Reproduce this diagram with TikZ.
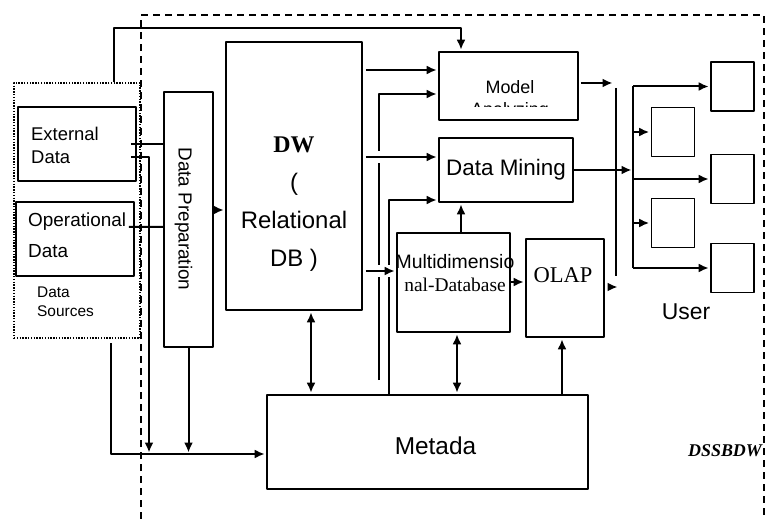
\documentclass[tikz,border=0pt]{standalone}
\usepackage{fontspec}
\setmainfont{Liberation Sans}
\newfontfamily\serifrm{Liberation Serif}
\usetikzlibrary{arrows.meta}

\begin{document}
\begin{tikzpicture}[line join=bevel,x=1bp,y=-1bp,
  tip/.tip={Latex[length=10bp,width=9bp]},
  box/.style={draw,line width=1.6bp,inner sep=0pt},
  userbox/.style={box,minimum width=43bp,minimum height=49bp},
  conn/.style={line width=2bp},
  arr/.style={conn,-tip,shorten >=1.5bp},
  dblarr/.style={conn,tip-tip,shorten >=1.5bp,shorten <=1.5bp},
  linehop/.style={preaction={draw=white,line width=12bp,-,shorten <=10bp,shorten >=#1}},
  linehop/.default=12bp]
\useasboundingbox (0,0) rectangle (778,519);
%%
\draw[line width=1.4bp,dash pattern=on 7bp off 5bp] (141,519) -- (141,15) -- (764,15) -- (764,519);
\node (src) at (77,210.5) [draw,line width=1.4bp,dash pattern=on 1.4bp off 1.4bp,inner sep=0pt,minimum width=126bp,minimum height=255bp] {};
\node (ext) at (77,144) [box,minimum width=118bp,minimum height=74bp] {};
\node (opr) at (75,239) [box,minimum width=118bp,minimum height=74bp] {};
\node (prep) at (188.5,219.5) [box,minimum width=49bp,minimum height=255bp] {};
\node (dw) at (294,176) [box,minimum width=136bp,minimum height=268bp] {};
\node (model) at (508.5,86) [box,minimum width=139bp,minimum height=68bp] {};
\node (mining) at (506,170) [box,minimum width=134bp,minimum height=64bp,font=\fontsize{22.5}{26}\selectfont] {Data Mining};
\node (multi) at (453.5,282.5) [box,minimum width=113bp,minimum height=99bp] {};
\node (olap) at (565,288) [box,minimum width=78bp,minimum height=98bp] {};
\node (metada) at (427.5,442) [box,minimum width=321bp,minimum height=94bp] {};
\node (u1) at (732.5,86.5) [userbox] {};
\node (u2) at (673,132) [userbox] {};
\node (u3) at (732.5,179) [userbox] {};
\node (u4) at (673,223) [userbox] {};
\node (u5) at (732.5,268) [userbox] {};
%
\node (extlbl) at (31,126.5) [anchor=north west,inner sep=0pt,align=left,font=\fontsize{18.5}{24}\selectfont] {External\\Data};
\node (oprlbl) at (28,213) [anchor=north west,inner sep=0pt,align=left,font=\fontsize{19}{31}\selectfont] {Operational\\Data};
\begin{scope}
  \clip (14,270) rectangle (140,316);
  \node (srclbl) at (37,286.5) [anchor=north west,inner sep=0pt,align=left,font=\fontsize{15.5}{19}\selectfont] {Data\\Sources};
\end{scope}
\node (preplbl) at (183.5,219) [rotate=-90,inner sep=0pt,font=\fontsize{19}{22}\selectfont] {Data Preparation};
\node (dwlbl) at (294,137) [anchor=north,inner sep=0pt,align=center,font=\fontsize{24}{38}\selectfont] {{\serifrm\bfseries DW}\\(\\Relational\\DB )};
\begin{scope}
  \clip (440,53) rectangle (577,107);
  \node (modellbl) at (510,80) [anchor=north,inner sep=0pt,align=center,font=\fontsize{18}{22}\selectfont] {Model\\Analyzing};
\end{scope}
\node (multilbl) at (455,254) [anchor=north,inner sep=0pt,align=center,font=\fontsize{19.5}{23}\selectfont] {Multidimensio\\{\serifrm nal-Database}};
\node (olaplbl) at (563,275.5) [inner sep=0pt,font=\serifrm\fontsize{22.6}{26}\selectfont] {OLAP};
\node (metadalbl) at (435.5,445.5) [inner sep=0pt,font=\fontsize{24.5}{28}\selectfont] {Metada};
\node (userlbl) at (686,311.5) [inner sep=0pt,font=\fontsize{23}{27}\selectfont] {User};
\node (dssbdw) at (725,451) [inner sep=0pt,font=\serifrm\bfseries\itshape\fontsize{18}{21}\selectfont] {DSSBDW};
%
\coordinate (feed) at (149,454);
\coordinate (srcout) at (111,343);
\coordinate (cut) at (379,380);
\coordinate (busA) at (616,88);
\coordinate (busB) at (616,276);
\coordinate (mdlend) at (614,83);
\coordinate (olapend) at (619,287);
\coordinate (fan) at (633,0);
%
\draw[conn] ([xshift=-6bp]ext.east) -- (prep.west |- ext.east);
\draw[arr] ([xshift=-6bp,yshift=-13bp]ext.east) -| (feed);
\draw[conn] ([xshift=-6bp,yshift=12bp]opr.east) -- (prep.west |- 0,227);
\draw[arr] (srcout) |- (metada.west |- feed);
\draw[arr] (prep.south) -- (prep.south |- feed);
\draw[arr] (prep.east |- 0,210) -- (dw.west |- 0,210);
\draw[dblarr] (dw.south -| 311,0) -- (metada.north -| 311,0);
\draw[arr] (src.north -| 114,0) |- (461,28) -- (model.north -| 461,0);
%
\draw[arr] (cut) |- (model.west |- 0,94);
\draw[arr] (metada.north -| 389,0) |- (mining.west |- 0,200);
\draw[arr] ([xshift=3bp]dw.east |- 0,70) -- (model.west |- 0,70);
\draw[arr,linehop] ([xshift=3bp]dw.east |- 0,157) -- (mining.west |- 0,157);
\draw[arr,linehop=4bp] ([xshift=3bp]dw.east |- 0,271) -- (multi.west |- 0,271);
\draw[arr] (multi.north -| 461,0) -- (mining.south -| 461,0);
\draw[arr] (multi.east |- 0,282) -- (olap.west |- 0,282);
\draw[dblarr] (multi.south -| 457,0) -- (metada.north -| 457,0);
\draw[arr] (metada.north -| 562,0) -- (olap.south -| 562,0);
%
\draw[conn] (busA) -- (busB);
\draw[arr] ([xshift=2bp]model.east |- mdlend) -- (mdlend);
\draw[arr] (mining.east) -- (mining.east -| fan);
\draw[arr] ([xshift=4bp]olap.east |- olapend) -- (olapend);
\draw[conn] (u1.west -| fan) -- (u5.west -| fan);
\foreach \u in {u1,u2,u3,u4,u5}
  \draw[arr] (\u.west -| fan) -- (\u.west);
%
\end{tikzpicture}
\end{document}
